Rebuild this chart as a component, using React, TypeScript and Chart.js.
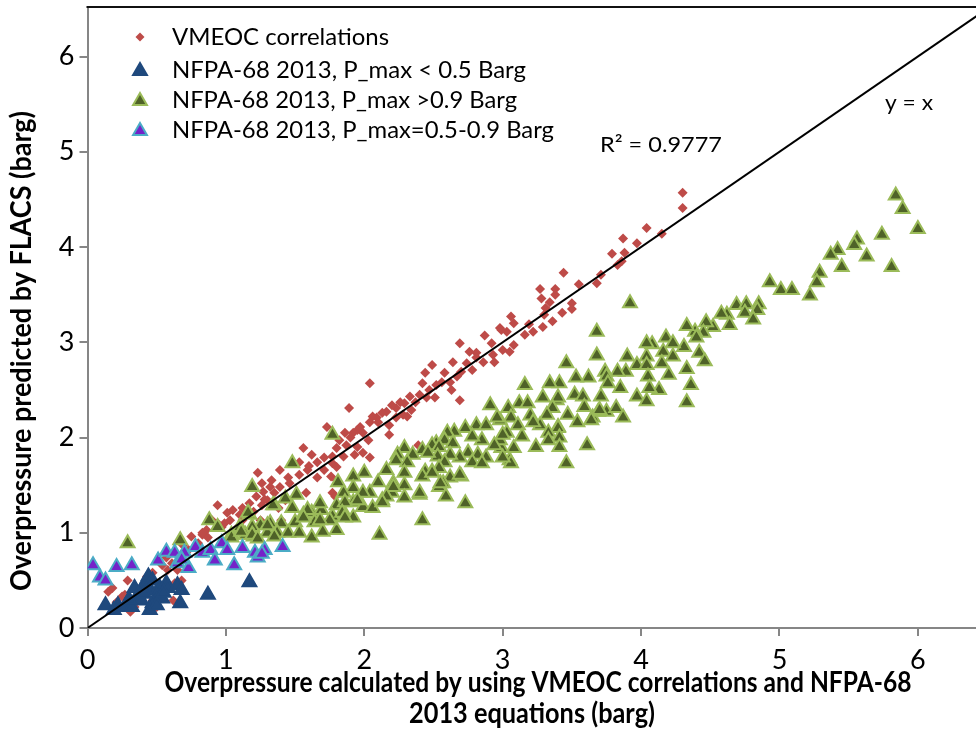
import React, { useEffect, useRef } from 'react';
import { Chart, registerables } from 'chart.js';

Chart.register(...registerables);

const xTicks = [0, 1, 2, 3, 4, 5, 6];
const yTicks = [0, 1, 2, 3, 4, 5, 6];

const legendLabels = [
  'VMEOC correlations',
  'NFPA-68 2013, P_max < 0.5 Barg',
  'NFPA-68 2013, P_max >0.9 Barg',
  'NFPA-68 2013, P_max=0.5-0.9 Barg',
];

const xTitle = ['Overpressure calculated by using VMEOC correlations and NFPA-68', '2013 equations (barg)'];
const yTitle = 'Overpressure predicted by FLACS (barg)';
const r2Label = 'R² = 0.9777';
const lineLabel = 'y = x';

const vmeocPoints: [number, number][] = [
  [4.30, 4.57], [4.30, 4.41], [4.04, 4.20], [4.15, 4.14], [3.87, 4.09], [3.97, 4.04], [3.79, 3.93], [3.88, 3.94],
  [3.83, 3.81], [3.86, 3.85], [3.44, 3.73], [3.71, 3.71], [3.68, 3.62], [3.55, 3.61], [3.38, 3.56], [3.38, 3.50],
  [3.34, 3.42], [3.50, 3.41], [3.50, 3.35], [3.43, 3.31], [3.36, 3.22], [3.27, 3.56], [3.28, 3.46], [3.31, 3.36],
  [3.30, 3.29], [3.06, 3.27], [3.08, 3.20], [2.98, 3.15], [3.19, 3.19], [3.22, 3.11], [3.16, 3.08], [3.29, 3.16],
  [3.03, 3.11], [2.87, 3.07], [2.92, 2.99], [3.08, 2.97], [3.00, 2.92], [2.81, 2.89], [2.76, 2.90], [2.93, 2.87],
  [2.86, 2.79], [2.94, 2.79], [2.78, 2.71], [3.05, 2.90], [2.99, 3.13], [2.69, 2.99], [2.81, 2.84], [2.74, 2.78],
  [2.64, 2.79], [2.70, 2.69], [2.49, 2.76], [2.58, 2.68], [2.67, 2.64], [2.44, 2.68], [2.62, 2.58], [2.56, 2.58],
  [2.52, 2.55], [2.47, 2.50], [2.42, 2.57], [2.04, 2.57], [2.63, 2.50], [2.69, 2.39], [2.51, 2.42], [2.40, 2.45],
  [2.45, 2.42], [2.33, 2.43], [2.37, 2.37], [2.29, 2.36], [2.26, 2.37], [2.23, 2.31], [2.34, 2.29], [2.20, 2.34],
  [2.16, 2.27], [2.28, 2.24], [2.13, 2.26], [2.09, 2.21], [2.06, 2.22], [2.23, 2.21], [2.31, 2.22], [1.89, 2.31],
  [2.10, 2.16], [2.04, 2.16], [2.18, 2.13], [1.97, 2.11], [1.95, 2.08], [1.99, 2.05], [1.92, 2.05], [1.90, 2.00],
  [2.03, 1.97], [2.18, 2.03], [1.87, 1.92], [1.82, 1.97], [1.80, 1.89], [1.95, 1.90], [1.99, 1.84], [1.93, 1.82],
  [1.85, 1.80], [2.04, 1.79], [1.77, 1.80], [2.39, 1.92], [1.77, 1.73], [1.76, 1.59], [1.80, 1.55], [1.77, 1.42],
  [1.79, 1.38], [1.73, 2.11], [1.86, 2.05], [1.56, 1.89], [1.62, 1.82], [1.71, 1.79], [1.53, 1.74], [1.66, 1.74],
  [1.80, 1.69], [1.71, 1.66], [1.59, 1.66], [1.39, 1.66], [1.23, 1.63], [1.53, 1.61], [1.66, 1.58], [1.45, 1.58],
  [1.33, 1.55], [1.26, 1.52], [1.39, 1.48], [1.32, 1.48], [1.27, 1.43], [1.35, 1.42], [1.58, 1.42], [1.43, 1.34],
  [1.22, 1.38], [1.30, 1.34], [1.17, 1.31], [1.26, 1.29], [1.38, 1.26], [1.12, 1.26], [1.05, 1.24], [1.20, 1.22],
  [0.94, 1.29], [1.10, 1.19], [1.01, 1.21], [1.03, 1.13], [0.94, 1.10], [0.97, 1.06], [1.12, 1.13], [1.25, 1.13],
  [1.40, 1.13], [1.23, 1.06], [0.86, 1.03], [0.83, 0.98], [0.87, 0.95], [1.08, 1.05], [0.90, 1.13], [0.99, 1.10],
  [0.83, 1.00], [0.75, 0.96], [0.80, 0.89], [0.69, 0.87], [0.73, 0.82], [0.63, 0.79], [0.68, 0.74], [0.57, 0.74],
  [0.61, 0.68], [0.54, 0.66], [0.58, 0.61], [0.65, 0.61], [0.47, 0.58], [0.43, 0.54], [0.29, 0.50], [0.68, 0.50],
  [0.63, 0.47], [0.18, 0.42], [0.15, 0.38], [0.42, 0.47], [0.27, 0.35], [0.25, 0.33], [0.62, 0.29], [0.21, 0.27],
  [0.50, 0.22], [0.31, 0.17], [0.34, 0.22], [0.47, 0.29], [1.15, 1.20], [1.28, 1.35], [1.46, 1.52], [1.60, 1.70],
];

const nfpaLowPoints: [number, number][] = [
  [0.13, 0.24], [0.19, 0.19], [0.22, 0.24], [0.29, 0.27], [0.36, 0.33], [0.34, 0.42], [0.42, 0.48], [0.44, 0.54],
  [0.47, 0.50], [0.38, 0.38], [0.45, 0.40], [0.52, 0.43], [0.50, 0.33], [0.39, 0.29], [0.47, 0.26], [0.54, 0.31],
  [0.45, 0.19], [0.57, 0.47], [0.58, 0.42], [0.65, 0.45], [0.68, 0.40], [0.67, 0.26], [0.27, 0.22], [0.32, 0.22],
  [0.87, 0.35], [1.17, 0.48], [0.50, 0.24], [0.41, 0.36], [0.30, 0.30], [0.55, 0.37],
];

const nfpaHighPoints: [number, number][] = [
  [5.84, 4.54], [5.89, 4.40], [6.00, 4.19], [5.74, 4.13], [5.81, 3.79], [5.56, 4.08], [5.54, 4.02], [5.63, 3.90],
  [5.45, 3.79], [5.42, 3.97], [5.37, 3.92], [5.29, 3.73], [5.27, 3.63], [5.22, 3.49], [4.93, 3.63], [5.01, 3.55],
  [5.09, 3.55], [4.69, 3.39], [4.76, 3.40], [4.85, 3.40], [4.75, 3.31], [4.84, 3.34], [4.81, 3.24], [4.62, 3.29],
  [4.58, 3.30], [4.64, 3.18], [4.52, 3.16], [4.47, 3.21], [4.45, 3.10], [4.39, 3.11], [4.33, 3.17], [4.40, 3.05],
  [4.31, 2.95], [4.42, 2.89], [4.46, 2.80], [4.18, 3.05], [4.23, 2.99], [4.08, 2.98], [4.04, 2.99], [4.16, 2.90],
  [4.23, 2.85], [4.15, 2.78], [4.20, 2.66], [4.04, 2.85], [3.90, 2.85], [3.97, 2.76], [4.04, 2.76], [4.05, 2.64],
  [4.33, 2.72], [4.36, 2.55], [4.33, 2.37], [4.13, 2.50], [4.06, 2.52], [3.97, 2.43], [4.04, 2.38], [3.89, 2.69],
  [3.83, 2.69], [3.74, 2.69], [3.75, 2.64], [3.76, 2.57], [3.85, 2.52], [3.71, 2.43], [3.62, 2.63], [3.53, 2.63],
  [3.46, 2.78], [3.68, 3.11], [3.68, 2.86], [3.92, 3.41], [3.41, 2.57], [3.52, 2.45], [3.58, 2.43], [3.39, 2.39],
  [3.59, 2.32], [3.47, 2.24], [3.54, 2.16], [3.65, 2.21], [3.69, 2.27], [3.75, 2.27], [3.82, 2.31], [3.87, 2.21],
  [3.40, 2.11], [3.61, 1.92], [3.34, 2.57], [3.16, 2.55], [3.29, 2.42], [3.40, 2.42], [3.12, 2.36], [3.18, 2.36],
  [3.04, 2.31], [3.36, 2.31], [3.20, 2.23], [3.32, 2.24], [3.06, 2.21], [3.11, 2.13], [3.27, 2.13], [3.22, 2.16],
  [3.40, 2.10], [2.98, 2.18], [3.03, 2.05], [3.14, 2.01], [3.33, 2.05], [3.41, 2.00], [3.33, 1.97], [3.24, 1.90],
  [3.41, 1.90], [3.08, 1.89], [2.99, 1.89], [3.05, 1.76], [3.06, 1.73], [3.46, 1.73], [2.98, 1.97], [3.70, 2.29],
  [3.64, 2.18], [2.91, 2.34], [2.96, 2.21], [2.81, 2.13], [2.73, 2.10], [2.65, 2.06], [2.60, 2.05], [2.88, 2.13],
  [3.00, 2.03], [2.85, 1.97], [2.78, 2.01], [2.58, 1.97], [2.52, 1.94], [2.49, 1.92], [2.64, 1.94], [2.54, 1.90],
  [2.42, 1.87], [2.29, 1.89], [2.94, 1.92], [3.00, 1.79], [2.75, 1.84], [2.82, 1.82], [2.88, 1.79], [2.69, 1.79],
  [2.78, 1.74], [2.85, 1.73], [2.62, 1.82], [2.53, 1.80], [2.46, 1.84], [2.35, 1.82], [2.24, 1.82], [2.23, 1.76],
  [2.58, 1.74], [2.54, 1.68], [2.49, 1.64], [2.44, 1.64], [2.42, 1.59], [2.70, 1.59], [2.62, 1.58], [2.57, 1.52],
  [2.54, 1.48], [2.40, 1.40], [2.73, 1.31], [2.42, 1.13], [2.31, 1.74], [2.29, 1.63], [2.16, 1.66], [2.10, 1.53],
  [2.21, 1.52], [2.29, 1.50], [2.20, 1.42], [2.29, 1.37], [2.00, 1.63], [1.92, 1.59], [2.04, 1.42], [2.13, 1.34],
  [1.92, 1.47], [1.85, 1.42], [1.92, 1.32], [1.99, 1.27], [2.06, 1.26], [1.80, 1.29], [1.85, 1.22], [1.92, 1.16],
  [1.81, 1.53], [1.77, 2.03], [1.48, 1.73], [1.19, 1.48], [1.99, 1.42], [2.21, 1.48], [2.16, 1.38], [2.13, 1.32],
  [1.95, 1.34], [1.86, 1.32], [1.51, 1.40], [1.43, 1.36], [1.35, 1.29], [1.17, 1.19], [1.48, 1.26], [1.56, 1.19],
  [1.62, 1.21], [1.69, 1.24], [1.77, 1.17], [1.84, 1.21], [1.64, 1.11], [1.50, 1.11], [1.40, 1.10], [1.32, 1.10],
  [1.25, 1.08], [1.19, 1.06], [1.10, 1.06], [1.04, 0.98], [1.14, 0.98], [1.30, 1.00], [1.37, 1.00], [1.45, 1.00],
  [1.53, 1.00], [1.62, 0.95], [1.70, 1.01], [1.80, 1.03], [0.88, 1.13], [0.94, 1.06], [2.11, 0.98], [1.20, 0.96],
  [2.40, 1.42], [2.59, 1.38], [1.68, 1.31], [1.59, 1.24], [1.86, 1.16], [1.75, 1.13], [1.68, 1.13], [1.56, 1.16],
  [2.49, 1.63], [2.69, 1.61], [2.55, 1.52], [0.29, 0.89], [0.67, 0.92], [1.04, 0.95], [1.11, 1.01], [1.19, 0.98],
  [1.16, 1.21], [1.30, 1.08], [1.34, 1.29], [1.23, 0.94], [1.35, 0.96],
];

const nfpaMidPoints: [number, number][] = [
  [0.04, 0.66], [0.09, 0.53], [0.13, 0.50], [0.21, 0.64], [0.32, 0.66], [0.51, 0.71], [0.57, 0.80], [0.63, 0.79],
  [0.70, 0.79], [0.65, 0.68], [0.73, 0.63], [0.78, 0.85], [0.83, 0.79], [0.89, 0.82], [0.92, 0.71], [0.97, 0.89],
  [1.01, 0.82], [1.06, 0.66], [1.12, 0.84], [1.21, 0.79], [1.23, 0.74], [1.28, 0.82], [1.41, 0.85], [0.68, 0.72],
  [1.26, 0.78],
];

const identityLine: [number, number][] = [[0, 0], [7, 7]];

const FONT = 'Lato, "Liberation Sans", sans-serif';

const RED = '#BE4B48';
const BLUE = '#1F497D';
const GREEN_FILL = '#4F6228';
const GREEN_EDGE = '#9BBB59';
const PURPLE_FILL = '#7422C9';
const PURPLE_EDGE = '#4BACC6';

function fitText(ctx: CanvasRenderingContext2D, text: string, x: number, y: number, width: number, align: CanvasTextAlign) {
  const w = ctx.measureText(text).width;
  const s = width / w;
  ctx.save();
  ctx.translate(x, y);
  ctx.scale(s, 1);
  ctx.textAlign = align;
  ctx.fillText(text, 0, 0);
  ctx.restore();
}

function triangle(ctx: CanvasRenderingContext2D, x: number, y: number, r: number, fill: string, stroke: string) {
  ctx.beginPath();
  let rad = 0;
  ctx.moveTo(x + Math.sin(rad) * r, y - Math.cos(rad) * r);
  rad += (2 * Math.PI) / 3;
  ctx.lineTo(x + Math.sin(rad) * r, y - Math.cos(rad) * r);
  rad += (2 * Math.PI) / 3;
  ctx.lineTo(x + Math.sin(rad) * r, y - Math.cos(rad) * r);
  ctx.closePath();
  ctx.fillStyle = fill;
  ctx.fill();
  ctx.strokeStyle = stroke;
  ctx.lineWidth = 2;
  ctx.stroke();
}

export default function App() {
  const ref = useRef<HTMLCanvasElement>(null);

  useEffect(() => {
    document.body.style.margin = '0';
    document.body.style.overflow = 'hidden';
    const toXY = (pts: [number, number][]) => pts.map(([x, y]) => ({ x, y }));

    const extras = {
      id: 'extras',
      afterDraw(chart: any) {
        const ctx: CanvasRenderingContext2D = chart.ctx;
        const a = chart.chartArea;
        ctx.save();
        // top border
        ctx.strokeStyle = '#111';
        ctx.lineWidth = 2;
        ctx.beginPath();
        ctx.moveTo(a.left - 1, a.top);
        ctx.lineTo(chart.width, a.top);
        ctx.stroke();

        // legend
        ctx.fillStyle = '#000';
        ctx.textBaseline = 'middle';
        ctx.font = `24px ${FONT}`;
        const rows = [37, 70, 100, 130];
        const widths = [217, 354, 345, 382];
        rows.forEach((ry, i) => fitText(ctx, legendLabels[i], 172, ry, widths[i], 'left'));
        const mx = 140;
        ctx.fillStyle = RED;
        ctx.beginPath();
        ctx.moveTo(mx, rows[0] - 4.5);
        ctx.lineTo(mx + 4.5, rows[0]);
        ctx.lineTo(mx, rows[0] + 4.5);
        ctx.lineTo(mx - 4.5, rows[0]);
        ctx.closePath();
        ctx.fill();
        triangle(ctx, mx, rows[1] + 1, 8, BLUE, BLUE);
        triangle(ctx, mx, rows[2] + 1, 8, GREEN_FILL, GREEN_EDGE);
        triangle(ctx, mx, rows[3] + 1, 8, PURPLE_FILL, PURPLE_EDGE);

        // annotations
        ctx.fillStyle = '#000';
        ctx.font = `22px ${FONT}`;
        fitText(ctx, r2Label, 600, 145, 122, 'left');
        fitText(ctx, lineLabel, 885, 103, 48, 'left');

        // axis titles
        ctx.font = `bold 28px ${FONT}`;
        fitText(ctx, xTitle[0], 538, 683, 747, 'center');
        fitText(ctx, xTitle[1], 532, 714, 246, 'center');
        ctx.save();
        ctx.translate(22, 351);
        ctx.rotate(-Math.PI / 2);
        fitText(ctx, yTitle, 0, 0, 480, 'center');
        ctx.restore();
        ctx.restore();
      },
    };

    const markerCommon = { pointStyle: 'triangle', pointRadius: 8, borderWidth: 2 };
    const noPad = (s: any) => {
      s.paddingTop = 0;
      s.paddingBottom = 0;
      s.paddingLeft = 0;
      s.paddingRight = 0;
    };

    const chart = new Chart(ref.current!, {
      type: 'scatter',
      data: {
        datasets: [
          {
            label: lineLabel,
            type: 'line',
            data: toXY(identityLine),
            borderColor: '#000',
            borderWidth: 2,
            pointRadius: 0,
            showLine: true,
            order: 0,
          } as any,
          {
            label: legendLabels[3],
            data: toXY(nfpaMidPoints),
            ...markerCommon,
            backgroundColor: PURPLE_FILL,
            borderColor: PURPLE_EDGE,
            order: 1,
          },
          {
            label: legendLabels[2],
            data: toXY(nfpaHighPoints),
            ...markerCommon,
            backgroundColor: GREEN_FILL,
            borderColor: GREEN_EDGE,
            order: 2,
          },
          {
            label: legendLabels[1],
            data: toXY(nfpaLowPoints),
            ...markerCommon,
            backgroundColor: BLUE,
            borderColor: BLUE,
            order: 3,
          },
          {
            label: legendLabels[0],
            data: toXY(vmeocPoints),
            pointStyle: 'rectRot',
            pointRadius: 5,
            borderWidth: 0,
            backgroundColor: RED,
            borderColor: RED,
            order: 4,
          },
        ],
      },
      options: {
        responsive: false,
        animation: false,
        events: [],
        layout: { autoPadding: false, padding: { top: 7, left: 0, right: 0, bottom: 0 } },
        plugins: { legend: { display: false }, tooltip: { enabled: false } },
        scales: {
          x: {
            type: 'linear',
            min: 0,
            max: 6.42,
            afterFit: (s: any) => { s.height = 103; noPad(s); },
            afterBuildTicks: (s: any) => { s.ticks = xTicks.map((v) => ({ value: v })); },
            grid: { drawOnChartArea: false, drawTicks: true, tickLength: 8, color: '#868686', lineWidth: 2 },
            border: { color: '#868686', width: 2 },
            ticks: { font: { family: FONT, size: 27 }, color: '#000', padding: 8, maxRotation: 0 },
          },
          y: {
            type: 'linear',
            min: 0,
            max: 6.52,
            afterFit: (s: any) => { s.width = 87.5; noPad(s); },
            afterBuildTicks: (s: any) => { s.ticks = yTicks.map((v) => ({ value: v })); },
            grid: { drawOnChartArea: false, drawTicks: true, tickLength: 8, color: '#868686', lineWidth: 2 },
            border: { color: '#868686', width: 2 },
            ticks: { font: { family: FONT, size: 27 }, color: '#000', padding: 5 },
          },
        },
      } as any,
      plugins: [extras],
    });
    return () => chart.destroy();
  }, []);

  return <canvas ref={ref} width={976} height={731} style={{ display: 'block' }} />;
}
